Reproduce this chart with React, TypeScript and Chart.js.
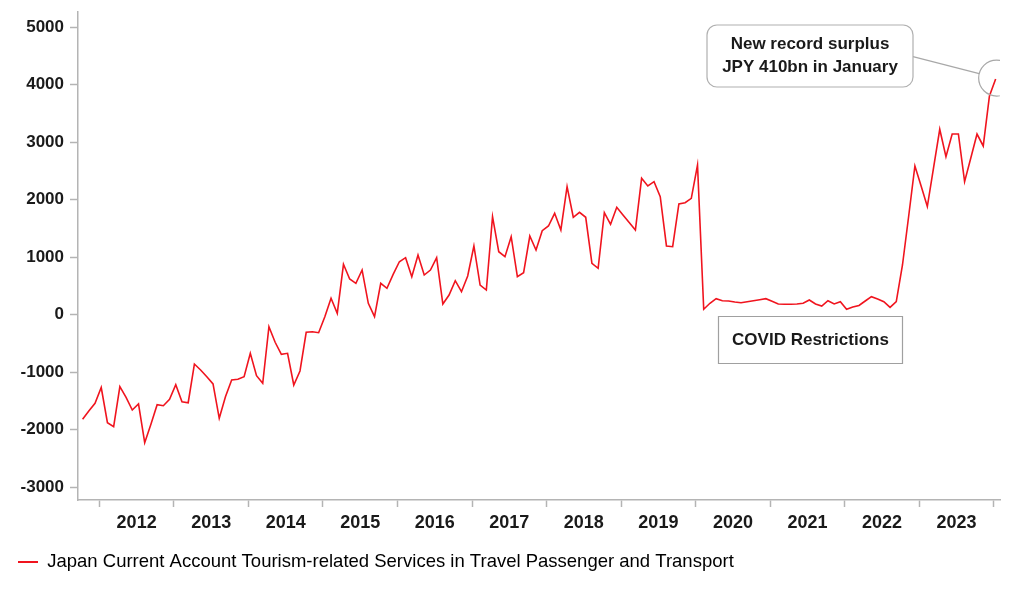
import React, { useEffect, useRef } from 'react';
import { Chart, registerables } from 'chart.js';

Chart.register(...registerables);

// Monthly series, first point = Oct 2011, last point = Jan 2024 (100 million JPY)
const seriesName = 'Japan Current Account Tourism-related Services in Travel Passenger and Transport';
const firstMonth = '2011-10';
const values: number[] = [
  -1817, -1673, -1539,
  -1265, -1876, -1946, -1250, -1435, -1656, -1551, -2224, -1902, -1563, -1581, -1470,
  -1216, -1511, -1529, -856, -960, -1077, -1203, -1800, -1424, -1134, -1122, -1077,
  -670, -1059, -1191, -207, -478, -687, -670, -1221, -977, -304, -294, -311,
  -33, 287, 26, 878, 623, 548, 779, 200, -33, 548, 461, 704,
  923, 993, 663, 1040, 692, 779, 995, 188, 344, 593, 402, 675,
  1197, 518, 431, 1706, 1097, 1010, 1358, 663, 732, 1370, 1127, 1463,
  1544, 1765, 1475, 2228, 1696, 1783, 1696, 896, 809, 1776, 1574, 1870,
  1737, 1607, 1475, 2374, 2240, 2315, 2054, 1197, 1184, 1927, 1950, 2026,
  2605, 96, 200, 280, 245, 240, 223, 210, 228, 245, 263, 280,
  235, 188, 184, 183, 188, 200, 257, 188, 153, 245, 188, 228,
  96, 136, 162, 240, 315, 275, 228, 130, 228, 866, 1718, 2588,
  2240, 1883, 2553, 3226, 2750, 3144, 3144, 2315, 2727, 3144, 2936, 3805,
  4100,
];
const yearLabels = ['2012', '2013', '2014', '2015', '2016', '2017', '2018', '2019', '2020', '2021', '2022', '2023'];
const yTickValues = [-3000, -2000, -1000, 0, 1000, 2000, 3000, 4000, 5000];
const calloutLines = ['New record surplus', 'JPY 410bn in January'];
const covidLabel = 'COVID Restrictions';

const FONT = "'Liberation Sans', Arial, sans-serif";
const RED = 'rgb(240,20,30)';
const AXIS_GRAY = '#b4b4b4';
const TEXT = '#1a1a1a';

export default function App() {
  const ref = useRef<HTMLCanvasElement>(null);

  useEffect(() => {
    if (!ref.current) return;
    const firstJan = 3; // index of Jan 2012 in values
    const shift = 0.3;
    const boundaries = [...yearLabels.map((_, k) => firstJan - shift + 12 * k), firstJan - shift + 12 * yearLabels.length];
    const centers = yearLabels.map((_, k) => firstJan - shift + 6 + 12 * k);
    const labelByKey = new Map<string, string>();
    centers.forEach((c, k) => labelByKey.set(c.toFixed(2), yearLabels[k]));

    const annotations = {
      id: 'annotations',
      afterDraw(chart: any) {
        const { ctx, scales } = chart;
        const xs = scales.x, ys = scales.y;
        ctx.save();
        // callout circle around last point
        const last = values.length - 1;
        const cx = xs.getPixelForValue(last) + 1;
        const cy = ys.getPixelForValue(values[last]) - 1;
        const r = 18;
        const bx = 707, by = 25, bw = 206, bh = 62;
        const ax = bx + bw, ay = 56.7;
        const dx = ax - cx, dy = ay - cy;
        const len = Math.hypot(dx, dy);
        ctx.strokeStyle = '#a8a8a8';
        ctx.lineWidth = 1.2;
        ctx.beginPath();
        ctx.moveTo(ax, ay);
        ctx.lineTo(cx + (dx / len) * r, cy + (dy / len) * r);
        ctx.stroke();
        ctx.save();
        ctx.beginPath();
        ctx.rect(0, 0, chart.chartArea.right, chart.height);
        ctx.clip();
        ctx.beginPath();
        ctx.arc(cx, cy, r, 0, Math.PI * 2);
        ctx.stroke();
        ctx.restore();
        // callout box
        ctx.beginPath();
        ctx.roundRect(bx, by, bw, bh, 10);
        ctx.fillStyle = '#ffffff';
        ctx.fill();
        ctx.strokeStyle = '#b0b0b0';
        ctx.stroke();
        ctx.fillStyle = TEXT;
        ctx.font = `bold 17px ${FONT}`;
        ctx.textAlign = 'center';
        ctx.textBaseline = 'middle';
        ctx.fillText(calloutLines[0], bx + bw / 2, 44.5);
        ctx.fillText(calloutLines[1], bx + bw / 2, 67);
        // COVID box
        ctx.beginPath();
        ctx.rect(718.5, 316.5, 184, 47);
        ctx.fillStyle = '#ffffff';
        ctx.fill();
        ctx.strokeStyle = '#a0a0a0';
        ctx.stroke();
        ctx.fillStyle = TEXT;
        ctx.fillText(covidLabel, 810.5, 340);
        ctx.restore();
      },
    };

    const chart = new Chart(ref.current, {
      type: 'line',
      data: {
        datasets: [
          {
            label: seriesName,
            data: values.map((v, i) => ({ x: i, y: v })),
            borderColor: RED,
            backgroundColor: RED,
            borderWidth: 1.6,
            pointRadius: 0,
            tension: 0,
          },
        ],
      },
      options: {
        animation: false,
        responsive: true,
        maintainAspectRatio: false,
        layout: { padding: { top: 12, right: 22, left: 0, bottom: 15.75 } },
        plugins: {
          title: { display: false },
          tooltip: { enabled: false },
          legend: {
            display: true,
            position: 'bottom',
            align: 'start',
            labels: {
              boxWidth: 20,
              boxHeight: 2,
              padding: 18,
              color: TEXT,
              font: { family: FONT, size: 18.5 },
              generateLabels: () => [
                { text: seriesName, fillStyle: RED, strokeStyle: RED, lineWidth: 0, hidden: false, datasetIndex: 0 },
              ],
            },
          },
        },
        scales: {
          x: {
            type: 'linear',
            min: -0.74,
            max: 147.7,
            afterBuildTicks: (scale: any) => {
              scale.ticks = [...boundaries, ...centers].sort((a, b) => a - b).map((v) => ({ value: v }));
            },
            afterFit: (scale: any) => {
              scale.height = 34.75;
              scale.paddingLeft = 0;
              scale.paddingRight = 0;
            },
            grid: {
              drawOnChartArea: false,
              drawTicks: true,
              tickLength: 7,
              tickColor: (c: any) => (c.tick && labelByKey.has(Number(c.tick.value).toFixed(2)) ? 'rgba(0,0,0,0)' : AXIS_GRAY),
              tickWidth: 1.5,
            },
            border: { display: true, color: AXIS_GRAY, width: 1.5 },
            ticks: {
              autoSkip: false,
              maxRotation: 0,
              padding: 5,
              color: TEXT,
              font: { family: FONT, size: 18, weight: 'bold' },
              callback: (v: any) => labelByKey.get(Number(v).toFixed(2)) ?? '',
            },
          },
          y: {
            type: 'linear',
            min: -3221,
            max: 5266,
            afterBuildTicks: (scale: any) => {
              scale.ticks = yTickValues.map((v) => ({ value: v }));
            },
            afterFit: (scale: any) => {
              scale.width = 78;
              scale.paddingTop = 0;
              scale.paddingBottom = 0;
            },
            grid: {
              drawOnChartArea: false,
              drawTicks: true,
              tickLength: 8,
              tickColor: AXIS_GRAY,
              tickWidth: 1.5,
            },
            border: { display: true, color: AXIS_GRAY, width: 1.5 },
            ticks: {
              padding: 6,
              color: TEXT,
              font: { family: FONT, size: 17, weight: 'bold' },
              callback: (v: any) => String(v),
            },
          },
        },
      },
      plugins: [annotations],
    } as any);

    return () => chart.destroy();
  }, []);

  return (
    <div style={{ position: 'fixed', left: 0, top: 0, width: 1022, height: 597, background: '#fff' }}>
      <canvas ref={ref} />
    </div>
  );
}
